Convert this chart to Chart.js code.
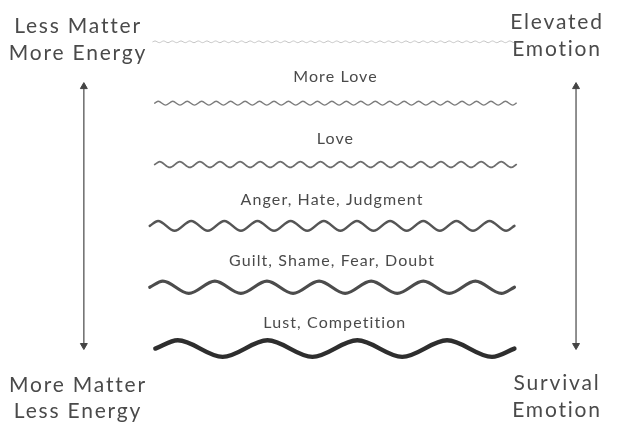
<!DOCTYPE html>
<html>
<head>
<meta charset="utf-8">
<script src="https://cdn.jsdelivr.net/npm/chart.js@4"></script>
<style>
  body { margin: 0; background: #fff; }
</style>
</head>
<body>
<canvas id="EmotionChart" width="626" height="426"></canvas>
<script>
// one wave per emotion level, level 6 = most energy
const waveLabels = ['', 'More Love', 'Love', 'Anger, Hate, Judgment', 'Guilt, Shame, Fear, Doubt', 'Lust, Competition'];
const waveLevels = [6, 5, 4, 3, 2, 1];
const waveCycles = [42, 25, 18, 11, 7, 4];
const waveAmplitudes = [0.014, 0.032, 0.048, 0.08, 0.1, 0.135];
const waveStart = [24, 24.3, 24.3, 23.5, 23.5, 24.4];
const waveEnd = [83, 83, 83, 82.7, 82.7, 82.7];

const arrowX = [12.8, 92.7];
const arrowLevels = [1.05, 5.27];

const leftLabels = [['Less Matter', 'More Energy'], ['More Matter', 'Less Energy']];
const rightLabels = [['Elevated', 'Emotion'], ['Survival', 'Emotion']];

const waveColors = ['#c4c4c4', '#7c7c7c', '#6e6e6e', '#555555', '#4c4c4c', '#2e2e2e'];
const waveWidths = [1, 1.4, 1.7, 2.5, 3.2, 4.4];

// peaks and troughs of each wave, smoothed by the library
function waveData(i) {
    const x0 = waveStart[i], x1 = waveEnd[i], c = waveCycles[i];
    const h = (x1 - x0) / (2 * c);
    const pts = [{ x: x0, y: waveLevels[i] }];
    for (let k = 0; k < 2 * c; k++) {
        pts.push({ x: x0 + h / 2 + k * h, y: waveLevels[i] + (k % 2 === 0 ? 1 : -1) * waveAmplitudes[i] });
    }
    pts.push({ x: x1, y: waveLevels[i] });
    return pts;
}

const datasets = waveLabels.map((label, i) => ({
    label: label,
    data: waveData(i),
    borderColor: waveColors[i],
    borderWidth: waveWidths[i],
    cubicInterpolationMode: 'monotone',
    pointRadius: 0,
    borderCapStyle: 'round',
    clip: false
}));

arrowX.forEach(x => {
    datasets.push({
        label: '',
        data: [{ x: x, y: arrowLevels[0] }, { x: x, y: arrowLevels[1] }],
        borderColor: '#555',
        borderWidth: 1.3,
        pointStyle: 'triangle',
        pointRadius: 4,
        pointRotation: [180, 0],
        pointBackgroundColor: '#444',
        pointBorderColor: '#444',
        pointBorderWidth: 1,
        clip: false
    });
});

const textPlugin = {
    id: 'textPlugin',
    afterDatasetsDraw(chart) {
        const { ctx, scales: { x, y } } = chart;
        ctx.save();
        ctx.textAlign = 'center';
        ctx.textBaseline = 'middle';
        ctx.fillStyle = '#4a4a4a';
        ctx.font = '16px Lato';
        ctx.letterSpacing = '1.1px';
        waveLabels.forEach((label, i) => {
            if (!label) return;
            const cx = (x.getPixelForValue(waveStart[i]) + x.getPixelForValue(waveEnd[i])) / 2;
            ctx.fillText(label, cx, y.getPixelForValue(waveLevels[i]) - 26);
        });

        ctx.font = '21px Lato';
        ctx.letterSpacing = '1.8px';
        ctx.fillStyle = '#4a4a4a';
        const lx = 78, rx = 557;
        ctx.fillText(leftLabels[0][0], lx, 26);
        ctx.fillText(leftLabels[0][1], lx, 53);
        ctx.fillText(leftLabels[1][0], lx, 385);
        ctx.fillText(leftLabels[1][1], lx, 411);
        ctx.fillText(rightLabels[0][0], rx, 22);
        ctx.fillText(rightLabels[0][1], rx, 49);
        ctx.fillText(rightLabels[1][0], rx, 383);
        ctx.fillText(rightLabels[1][1], rx, 410);
        ctx.restore();
    }
};

function renderChart() {
    const ctx = document.getElementById('EmotionChart');

    new Chart(ctx, {
        type: 'line',
        data: { datasets: datasets },
        options: {
            responsive: false,
            animation: false,
            layout: { padding: 0 },
            scales: {
                x: { type: 'linear', min: 0, max: 100, display: false },
                y: { min: -0.18, max: 6.6, display: false }
            },
            plugins: {
                legend: { display: false },
                tooltip: { enabled: false }
            }
        },
        plugins: [textPlugin]
    });
}

renderChart();
</script>
</body>
</html>
